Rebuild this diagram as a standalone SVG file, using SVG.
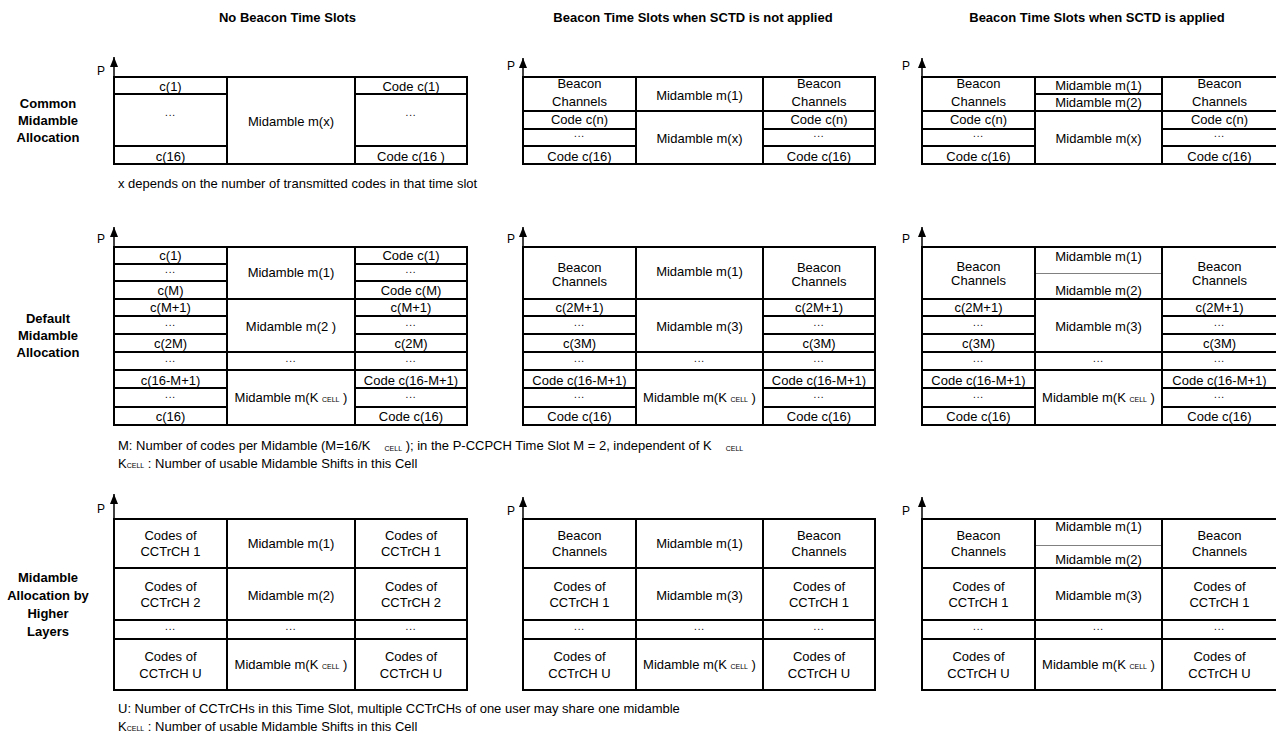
<svg xmlns="http://www.w3.org/2000/svg" width="1276" height="735" viewBox="0 0 1276 735">
<style>
.c{fill:#fff;stroke:#000;stroke-width:2}
.thin{stroke:#808080;stroke-width:1}
text{font-family:"Liberation Sans",Arial,sans-serif;font-size:13px;fill:#000}
.t{text-anchor:middle}
.d{text-anchor:middle;font-size:10px;letter-spacing:0.9px}
.b{font-weight:bold;text-anchor:middle}
.s{font-size:7px}
.p{font-size:12px}
.ax{stroke:#000;stroke-width:1.5;fill:none}
</style>
<defs>
<marker id="arr" viewBox="0 0 10 8" refX="10" refY="4" markerWidth="10" markerHeight="8" markerUnits="userSpaceOnUse" orient="auto"><path d="M0,0 L10,4 L0,8 z" fill="#000"/></marker>
</defs>
<rect x="0" y="0" width="1276" height="735" fill="#fff"/>

<g id="titles">
<text class="b" x="287.5" y="21.5">No Beacon Time Slots</text>
<text class="b" x="693" y="21.5">Beacon Time Slots when SCTD is not applied</text>
<text class="b" x="1097" y="21.5">Beacon Time Slots when SCTD is applied</text>
</g>

<g id="row-labels">
<text class="b" x="48" y="108">Common</text>
<text class="b" x="48" y="125">Midamble</text>
<text class="b" x="48" y="142">Allocation</text>
<text class="b" x="48" y="323">Default</text>
<text class="b" x="48" y="340">Midamble</text>
<text class="b" x="48" y="357">Allocation</text>
<text class="b" x="48" y="582">Midamble</text>
<text class="b" x="48" y="600">Allocation by</text>
<text class="b" x="48" y="618">Higher</text>
<text class="b" x="48" y="636">Layers</text>
</g>

<!-- Row 1, column A -->
<g id="r1a-l1"><rect class="c" x="114" y="77" width="113" height="17"/><text class="t" x="170.5" y="90.5">c(1)</text></g>
<g id="r1a-l2"><rect class="c" x="114" y="94" width="113" height="52"/><text class="d" x="170.5" y="116">...</text></g>
<g id="r1a-l3"><rect class="c" x="114" y="146" width="113" height="18"/><text class="t" x="170.5" y="160.5">c(16)</text></g>
<g id="r1a-m"><rect class="c" x="227" y="77" width="128" height="87"/><text class="t" x="291" y="126">Midamble m(x)</text></g>
<g id="r1a-r1"><rect class="c" x="355" y="77" width="112" height="17"/><text class="t" x="411" y="90.5">Code c(1)</text></g>
<g id="r1a-r2"><rect class="c" x="355" y="94" width="112" height="52"/><text class="d" x="411" y="116">...</text></g>
<g id="r1a-r3"><rect class="c" x="355" y="146" width="112" height="18"/><text class="t" x="411" y="160.5">Code c(16 )</text></g>

<!-- Row 1, column B -->
<g id="r1b-l1"><rect class="c" x="523" y="77" width="113" height="34"/><text class="t" x="579.5" y="88">Beacon</text><text class="t" x="579.5" y="106">Channels</text></g>
<g id="r1b-l2"><rect class="c" x="523" y="111" width="113" height="18"/><text class="t" x="579.5" y="124">Code c(n)</text></g>
<g id="r1b-l3"><rect class="c" x="523" y="129" width="113" height="17"/><text class="d" x="579.5" y="137">...</text></g>
<g id="r1b-l4"><rect class="c" x="523" y="146" width="113" height="18"/><text class="t" x="579.5" y="160.5">Code c(16)</text></g>
<g id="r1b-m1"><rect class="c" x="636" y="77" width="127" height="34"/><text class="t" x="699.5" y="100">Midamble m(1)</text></g>
<g id="r1b-m2"><rect class="c" x="636" y="111" width="127" height="53"/><text class="t" x="699.5" y="142.5">Midamble m(x)</text></g>
<g id="r1b-r1"><rect class="c" x="763" y="77" width="112" height="34"/><text class="t" x="819" y="88">Beacon</text><text class="t" x="819" y="106">Channels</text></g>
<g id="r1b-r2"><rect class="c" x="763" y="111" width="112" height="18"/><text class="t" x="819" y="124">Code c(n)</text></g>
<g id="r1b-r3"><rect class="c" x="763" y="129" width="112" height="17"/><text class="d" x="819" y="137">...</text></g>
<g id="r1b-r4"><rect class="c" x="763" y="146" width="112" height="18"/><text class="t" x="819" y="160.5">Code c(16)</text></g>

<!-- Row 1, column C -->
<g id="r1c-l1"><rect class="c" x="922" y="77" width="113" height="34"/><text class="t" x="978.5" y="88">Beacon</text><text class="t" x="978.5" y="106">Channels</text></g>
<g id="r1c-l2"><rect class="c" x="922" y="111" width="113" height="18"/><text class="t" x="978.5" y="124">Code c(n)</text></g>
<g id="r1c-l3"><rect class="c" x="922" y="129" width="113" height="17"/><text class="d" x="978.5" y="137">...</text></g>
<g id="r1c-l4"><rect class="c" x="922" y="146" width="113" height="18"/><text class="t" x="978.5" y="160.5">Code c(16)</text></g>
<g id="r1c-m1"><rect class="c" x="1035" y="77" width="127" height="17"/><text class="t" x="1098.5" y="89.5">Midamble m(1)</text></g>
<g id="r1c-m2"><rect class="c" x="1035" y="94" width="127" height="17"/><text class="t" x="1098.5" y="106.5">Midamble m(2)</text></g>
<g id="r1c-m3"><rect class="c" x="1035" y="111" width="127" height="53"/><text class="t" x="1098.5" y="142.5">Midamble m(x)</text></g>
<g id="r1c-r1"><rect class="c" x="1162" y="77" width="115" height="34"/><text class="t" x="1219.5" y="88">Beacon</text><text class="t" x="1219.5" y="106">Channels</text></g>
<g id="r1c-r2"><rect class="c" x="1162" y="111" width="115" height="18"/><text class="t" x="1219.5" y="124">Code c(n)</text></g>
<g id="r1c-r3"><rect class="c" x="1162" y="129" width="115" height="17"/><text class="d" x="1219.5" y="137">...</text></g>
<g id="r1c-r4"><rect class="c" x="1162" y="146" width="115" height="18"/><text class="t" x="1219.5" y="160.5">Code c(16)</text></g>

<text id="note1" x="118" y="187.5">x depends on the number of transmitted codes in that time slot</text>

<!-- Row 2, column A -->
<g id="r2a-l1"><rect class="c" x="114" y="247" width="113" height="17"/><text class="t" x="170.5" y="259.5">c(1)</text></g>
<g id="r2a-l2"><rect class="c" x="114" y="264" width="113" height="17"/><text class="d" x="170.5" y="273">...</text></g>
<g id="r2a-l3"><rect class="c" x="114" y="281" width="113" height="18"/><text class="t" x="170.5" y="295">c(M)</text></g>
<g id="r2a-l4"><rect class="c" x="114" y="299" width="113" height="17"/><text class="t" x="170.5" y="311.5">c(M+1)</text></g>
<g id="r2a-l5"><rect class="c" x="114" y="316" width="113" height="18"/><text class="d" x="170.5" y="325.5">...</text></g>
<g id="r2a-l6"><rect class="c" x="114" y="334" width="113" height="18"/><text class="t" x="170.5" y="347.5">c(2M)</text></g>
<g id="r2a-l7"><rect class="c" x="114" y="352" width="113" height="18"/><text class="d" x="170.5" y="361.5">...</text></g>
<g id="r2a-l8"><rect class="c" x="114" y="370" width="113" height="18"/><text class="t" x="170.5" y="384.5">c(16-M+1)</text></g>
<g id="r2a-l9"><rect class="c" x="114" y="388" width="113" height="19"/><text class="d" x="170.5" y="398">...</text></g>
<g id="r2a-l10"><rect class="c" x="114" y="407" width="113" height="18"/><text class="t" x="170.5" y="420.5">c(16)</text></g>
<g id="r2a-m1"><rect class="c" x="227" y="247" width="128" height="52"/><text class="t" x="291" y="277">Midamble m(1)</text></g>
<g id="r2a-m2"><rect class="c" x="227" y="299" width="128" height="53"/><text class="t" x="291" y="330.5">Midamble m(2 )</text></g>
<g id="r2a-m3"><rect class="c" x="227" y="352" width="128" height="18"/><text class="d" x="291" y="361.5">...</text></g>
<g id="r2a-m4"><rect class="c" x="227" y="370" width="128" height="55"/><text class="t" x="291" y="402">Midamble m(K <tspan class="s">CELL</tspan> )</text></g>
<g id="r2a-r1"><rect class="c" x="355" y="247" width="112" height="17"/><text class="t" x="411" y="259.5">Code c(1)</text></g>
<g id="r2a-r2"><rect class="c" x="355" y="264" width="112" height="17"/><text class="d" x="411" y="273">...</text></g>
<g id="r2a-r3"><rect class="c" x="355" y="281" width="112" height="18"/><text class="t" x="411" y="295">Code c(M)</text></g>
<g id="r2a-r4"><rect class="c" x="355" y="299" width="112" height="17"/><text class="t" x="411" y="311.5">c(M+1)</text></g>
<g id="r2a-r5"><rect class="c" x="355" y="316" width="112" height="18"/><text class="d" x="411" y="325.5">...</text></g>
<g id="r2a-r6"><rect class="c" x="355" y="334" width="112" height="18"/><text class="t" x="411" y="347.5">c(2M)</text></g>
<g id="r2a-r7"><rect class="c" x="355" y="352" width="112" height="18"/><text class="d" x="411" y="361.5">...</text></g>
<g id="r2a-r8"><rect class="c" x="355" y="370" width="112" height="18"/><text class="t" x="411" y="384.5">Code c(16-M+1)</text></g>
<g id="r2a-r9"><rect class="c" x="355" y="388" width="112" height="19"/><text class="d" x="411" y="398">...</text></g>
<g id="r2a-r10"><rect class="c" x="355" y="407" width="112" height="18"/><text class="t" x="411" y="420.5">Code c(16)</text></g>

<!-- Row 2, column B -->
<g id="r2b-l1"><rect class="c" x="523" y="247" width="113" height="52"/><text class="t" x="579.5" y="272">Beacon</text><text class="t" x="579.5" y="286">Channels</text></g>
<g id="r2b-l2"><rect class="c" x="523" y="299" width="113" height="17"/><text class="t" x="579.5" y="311.5">c(2M+1)</text></g>
<g id="r2b-l3"><rect class="c" x="523" y="316" width="113" height="18"/><text class="d" x="579.5" y="326">...</text></g>
<g id="r2b-l4"><rect class="c" x="523" y="334" width="113" height="18"/><text class="t" x="579.5" y="347.5">c(3M)</text></g>
<g id="r2b-l5"><rect class="c" x="523" y="352" width="113" height="18"/><text class="d" x="579.5" y="361.5">...</text></g>
<g id="r2b-l6"><rect class="c" x="523" y="370" width="113" height="18"/><text class="t" x="579.5" y="384.5">Code c(16-M+1)</text></g>
<g id="r2b-l7"><rect class="c" x="523" y="388" width="113" height="19"/><text class="d" x="579.5" y="398">...</text></g>
<g id="r2b-l8"><rect class="c" x="523" y="407" width="113" height="18"/><text class="t" x="579.5" y="420.5">Code c(16)</text></g>
<g id="r2b-m1"><rect class="c" x="636" y="247" width="127" height="52"/><text class="t" x="699.5" y="276">Midamble m(1)</text></g>
<g id="r2b-m2"><rect class="c" x="636" y="299" width="127" height="53"/><text class="t" x="699.5" y="330.5">Midamble m(3)</text></g>
<g id="r2b-m3"><rect class="c" x="636" y="352" width="127" height="18"/><text class="d" x="699.5" y="361.5">...</text></g>
<g id="r2b-m4"><rect class="c" x="636" y="370" width="127" height="55"/><text class="t" x="699.5" y="402">Midamble m(K <tspan class="s">CELL</tspan> )</text></g>
<g id="r2b-r1"><rect class="c" x="763" y="247" width="112" height="52"/><text class="t" x="819" y="272">Beacon</text><text class="t" x="819" y="286">Channels</text></g>
<g id="r2b-r2"><rect class="c" x="763" y="299" width="112" height="17"/><text class="t" x="819" y="311.5">c(2M+1)</text></g>
<g id="r2b-r3"><rect class="c" x="763" y="316" width="112" height="18"/><text class="d" x="819" y="326">...</text></g>
<g id="r2b-r4"><rect class="c" x="763" y="334" width="112" height="18"/><text class="t" x="819" y="347.5">c(3M)</text></g>
<g id="r2b-r5"><rect class="c" x="763" y="352" width="112" height="18"/><text class="d" x="819" y="361.5">...</text></g>
<g id="r2b-r6"><rect class="c" x="763" y="370" width="112" height="18"/><text class="t" x="819" y="384.5">Code c(16-M+1)</text></g>
<g id="r2b-r7"><rect class="c" x="763" y="388" width="112" height="19"/><text class="d" x="819" y="398">...</text></g>
<g id="r2b-r8"><rect class="c" x="763" y="407" width="112" height="18"/><text class="t" x="819" y="420.5">Code c(16)</text></g>

<!-- Row 2, column C -->
<g id="r2c-l1"><rect class="c" x="922" y="247" width="113" height="52"/><text class="t" x="978.5" y="270.5">Beacon</text><text class="t" x="978.5" y="284.5">Channels</text></g>
<g id="r2c-l2"><rect class="c" x="922" y="299" width="113" height="17"/><text class="t" x="978.5" y="311.5">c(2M+1)</text></g>
<g id="r2c-l3"><rect class="c" x="922" y="316" width="113" height="18"/><text class="d" x="978.5" y="326">...</text></g>
<g id="r2c-l4"><rect class="c" x="922" y="334" width="113" height="18"/><text class="t" x="978.5" y="347.5">c(3M)</text></g>
<g id="r2c-l5"><rect class="c" x="922" y="352" width="113" height="18"/><text class="d" x="978.5" y="361.5">...</text></g>
<g id="r2c-l6"><rect class="c" x="922" y="370" width="113" height="18"/><text class="t" x="978.5" y="384.5">Code c(16-M+1)</text></g>
<g id="r2c-l7"><rect class="c" x="922" y="388" width="113" height="19"/><text class="d" x="978.5" y="398">...</text></g>
<g id="r2c-l8"><rect class="c" x="922" y="407" width="113" height="18"/><text class="t" x="978.5" y="420.5">Code c(16)</text></g>
<g id="r2c-m1"><rect class="c" x="1035" y="247" width="127" height="52"/><line class="thin" x1="1036" y1="273.5" x2="1161" y2="273.5"/><text class="t" x="1098.5" y="261">Midamble m(1)</text><text class="t" x="1098.5" y="294.5">Midamble m(2)</text></g>
<g id="r2c-m2"><rect class="c" x="1035" y="299" width="127" height="53"/><text class="t" x="1098.5" y="330.5">Midamble m(3)</text></g>
<g id="r2c-m3"><rect class="c" x="1035" y="352" width="127" height="18"/><text class="d" x="1098.5" y="361.5">...</text></g>
<g id="r2c-m4"><rect class="c" x="1035" y="370" width="127" height="55"/><text class="t" x="1098.5" y="402">Midamble m(K <tspan class="s">CELL</tspan> )</text></g>
<g id="r2c-r1"><rect class="c" x="1162" y="247" width="115" height="52"/><text class="t" x="1219.5" y="270.5">Beacon</text><text class="t" x="1219.5" y="284.5">Channels</text></g>
<g id="r2c-r2"><rect class="c" x="1162" y="299" width="115" height="17"/><text class="t" x="1219.5" y="311.5">c(2M+1)</text></g>
<g id="r2c-r3"><rect class="c" x="1162" y="316" width="115" height="18"/><text class="d" x="1219.5" y="326">...</text></g>
<g id="r2c-r4"><rect class="c" x="1162" y="334" width="115" height="18"/><text class="t" x="1219.5" y="347.5">c(3M)</text></g>
<g id="r2c-r5"><rect class="c" x="1162" y="352" width="115" height="18"/><text class="d" x="1219.5" y="361.5">...</text></g>
<g id="r2c-r6"><rect class="c" x="1162" y="370" width="115" height="18"/><text class="t" x="1219.5" y="384.5">Code c(16-M+1)</text></g>
<g id="r2c-r7"><rect class="c" x="1162" y="388" width="115" height="19"/><text class="d" x="1219.5" y="398">...</text></g>
<g id="r2c-r8"><rect class="c" x="1162" y="407" width="115" height="18"/><text class="t" x="1219.5" y="420.5">Code c(16)</text></g>

<g id="note2">
<text x="118" y="449.5">M: Number of codes per Midamble (M=16/K<tspan class="s" dx="14" dy="1">CELL</tspan><tspan dy="-1"> ); in the P-CCPCH Time Slot M = 2, independent of K</tspan><tspan class="s" dx="14" dy="1">CELL</tspan></text>
<text x="118" y="468">K<tspan class="s">CELL</tspan> : Number of usable Midamble Shifts in this Cell</text>
</g>

<!-- Row 3, column A -->
<g id="r3a-l1"><rect class="c" x="114" y="519" width="113" height="49"/><text class="t" x="170.5" y="539.5">Codes of</text><text class="t" x="170.5" y="556">CCTrCH 1</text></g>
<g id="r3a-l2"><rect class="c" x="114" y="568" width="113" height="52"/><text class="t" x="170.5" y="591">Codes of</text><text class="t" x="170.5" y="606.5">CCTrCH 2</text></g>
<g id="r3a-l3"><rect class="c" x="114" y="620" width="113" height="19"/><text class="d" x="170.5" y="630">...</text></g>
<g id="r3a-l4"><rect class="c" x="114" y="639" width="113" height="51"/><text class="t" x="170.5" y="661">Codes of</text><text class="t" x="170.5" y="678">CCTrCH U</text></g>
<g id="r3a-m1"><rect class="c" x="227" y="519" width="128" height="49"/><text class="t" x="291" y="548">Midamble m(1)</text></g>
<g id="r3a-m2"><rect class="c" x="227" y="568" width="128" height="52"/><text class="t" x="291" y="599.5">Midamble m(2)</text></g>
<g id="r3a-m3"><rect class="c" x="227" y="620" width="128" height="19"/><text class="d" x="291" y="630">...</text></g>
<g id="r3a-m4"><rect class="c" x="227" y="639" width="128" height="51"/><text class="t" x="291" y="668.5">Midamble m(K <tspan class="s">CELL</tspan> )</text></g>
<g id="r3a-r1"><rect class="c" x="355" y="519" width="112" height="49"/><text class="t" x="411" y="539.5">Codes of</text><text class="t" x="411" y="556">CCTrCH 1</text></g>
<g id="r3a-r2"><rect class="c" x="355" y="568" width="112" height="52"/><text class="t" x="411" y="591">Codes of</text><text class="t" x="411" y="606.5">CCTrCH 2</text></g>
<g id="r3a-r3"><rect class="c" x="355" y="620" width="112" height="19"/><text class="d" x="411" y="630">...</text></g>
<g id="r3a-r4"><rect class="c" x="355" y="639" width="112" height="51"/><text class="t" x="411" y="661">Codes of</text><text class="t" x="411" y="678">CCTrCH U</text></g>

<!-- Row 3, column B -->
<g id="r3b-l1"><rect class="c" x="523" y="519" width="113" height="49"/><text class="t" x="579.5" y="539.5">Beacon</text><text class="t" x="579.5" y="555.5">Channels</text></g>
<g id="r3b-l2"><rect class="c" x="523" y="568" width="113" height="52"/><text class="t" x="579.5" y="591">Codes of</text><text class="t" x="579.5" y="606.5">CCTrCH 1</text></g>
<g id="r3b-l3"><rect class="c" x="523" y="620" width="113" height="19"/><text class="d" x="579.5" y="630">...</text></g>
<g id="r3b-l4"><rect class="c" x="523" y="639" width="113" height="51"/><text class="t" x="579.5" y="661">Codes of</text><text class="t" x="579.5" y="678">CCTrCH U</text></g>
<g id="r3b-m1"><rect class="c" x="636" y="519" width="127" height="49"/><text class="t" x="699.5" y="548">Midamble m(1)</text></g>
<g id="r3b-m2"><rect class="c" x="636" y="568" width="127" height="52"/><text class="t" x="699.5" y="599.5">Midamble m(3)</text></g>
<g id="r3b-m3"><rect class="c" x="636" y="620" width="127" height="19"/><text class="d" x="699.5" y="630">...</text></g>
<g id="r3b-m4"><rect class="c" x="636" y="639" width="127" height="51"/><text class="t" x="699.5" y="668.5">Midamble m(K <tspan class="s">CELL</tspan> )</text></g>
<g id="r3b-r1"><rect class="c" x="763" y="519" width="112" height="49"/><text class="t" x="819" y="539.5">Beacon</text><text class="t" x="819" y="555.5">Channels</text></g>
<g id="r3b-r2"><rect class="c" x="763" y="568" width="112" height="52"/><text class="t" x="819" y="591">Codes of</text><text class="t" x="819" y="606.5">CCTrCH 1</text></g>
<g id="r3b-r3"><rect class="c" x="763" y="620" width="112" height="19"/><text class="d" x="819" y="630">...</text></g>
<g id="r3b-r4"><rect class="c" x="763" y="639" width="112" height="51"/><text class="t" x="819" y="661">Codes of</text><text class="t" x="819" y="678">CCTrCH U</text></g>

<!-- Row 3, column C -->
<g id="r3c-l1"><rect class="c" x="922" y="519" width="113" height="49"/><text class="t" x="978.5" y="539.5">Beacon</text><text class="t" x="978.5" y="555.5">Channels</text></g>
<g id="r3c-l2"><rect class="c" x="922" y="568" width="113" height="52"/><text class="t" x="978.5" y="591">Codes of</text><text class="t" x="978.5" y="606.5">CCTrCH 1</text></g>
<g id="r3c-l3"><rect class="c" x="922" y="620" width="113" height="19"/><text class="d" x="978.5" y="630">...</text></g>
<g id="r3c-l4"><rect class="c" x="922" y="639" width="113" height="51"/><text class="t" x="978.5" y="661">Codes of</text><text class="t" x="978.5" y="678">CCTrCH U</text></g>
<g id="r3c-m1"><rect class="c" x="1035" y="519" width="127" height="49"/><line class="thin" x1="1036" y1="545.5" x2="1161" y2="545.5"/><text class="t" x="1098.5" y="531">Midamble m(1)</text><text class="t" x="1098.5" y="564">Midamble m(2)</text></g>
<g id="r3c-m2"><rect class="c" x="1035" y="568" width="127" height="52"/><text class="t" x="1098.5" y="599.5">Midamble m(3)</text></g>
<g id="r3c-m3"><rect class="c" x="1035" y="620" width="127" height="19"/><text class="d" x="1098.5" y="630">...</text></g>
<g id="r3c-m4"><rect class="c" x="1035" y="639" width="127" height="51"/><text class="t" x="1098.5" y="668.5">Midamble m(K <tspan class="s">CELL</tspan> )</text></g>
<g id="r3c-r1"><rect class="c" x="1162" y="519" width="115" height="49"/><text class="t" x="1219.5" y="539.5">Beacon</text><text class="t" x="1219.5" y="555.5">Channels</text></g>
<g id="r3c-r2"><rect class="c" x="1162" y="568" width="115" height="52"/><text class="t" x="1219.5" y="591">Codes of</text><text class="t" x="1219.5" y="606.5">CCTrCH 1</text></g>
<g id="r3c-r3"><rect class="c" x="1162" y="620" width="115" height="19"/><text class="d" x="1219.5" y="630">...</text></g>
<g id="r3c-r4"><rect class="c" x="1162" y="639" width="115" height="51"/><text class="t" x="1219.5" y="661">Codes of</text><text class="t" x="1219.5" y="678">CCTrCH U</text></g>

<g id="note3">
<text x="118" y="713">U: Number of CCTrCHs in this Time Slot, multiple CCTrCHs of one user may share one midamble</text>
<text x="118" y="731">K<tspan class="s">CELL</tspan> : Number of usable Midamble Shifts in this Cell</text>
</g>

<g id="connectors">
<line class="ax" x1="114" y1="78" x2="114" y2="57" marker-end="url(#arr)"/>
<line class="ax" x1="523" y1="78" x2="523" y2="58" marker-end="url(#arr)"/>
<line class="ax" x1="922" y1="78" x2="922" y2="58" marker-end="url(#arr)"/>
<line class="ax" x1="114" y1="248" x2="114" y2="227" marker-end="url(#arr)"/>
<line class="ax" x1="523" y1="248" x2="523" y2="227" marker-end="url(#arr)"/>
<line class="ax" x1="922" y1="248" x2="922" y2="227" marker-end="url(#arr)"/>
<line class="ax" x1="114" y1="520" x2="114" y2="494" marker-end="url(#arr)"/>
<line class="ax" x1="523" y1="520" x2="523" y2="497" marker-end="url(#arr)"/>
<line class="ax" x1="922" y1="520" x2="922" y2="497" marker-end="url(#arr)"/>
</g>

<g id="axis-labels">
<text class="p" x="97" y="75">P</text>
<text class="p" x="507" y="70">P</text>
<text class="p" x="902" y="70">P</text>
<text class="p" x="97" y="243">P</text>
<text class="p" x="507" y="243">P</text>
<text class="p" x="902" y="243">P</text>
<text class="p" x="97" y="513">P</text>
<text class="p" x="507" y="515">P</text>
<text class="p" x="902" y="515">P</text>
</g>
</svg>
